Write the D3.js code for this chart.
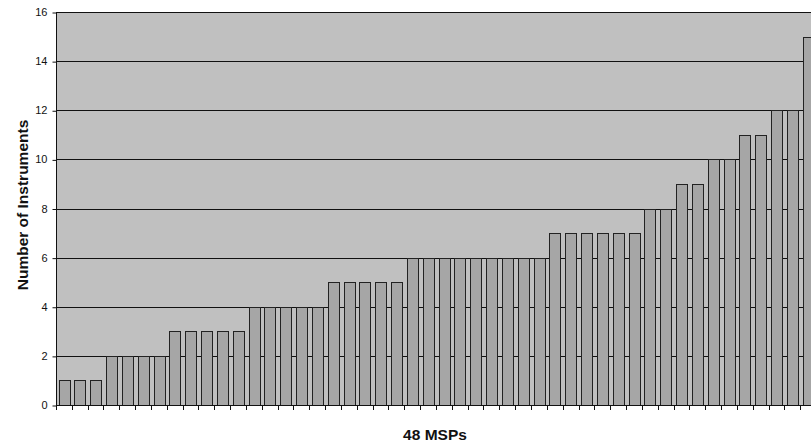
<!DOCTYPE html>
<meta charset="utf-8">
<style>
body { margin: 0; background: #fff; }
svg { font-family: "Liberation Sans", Arial, sans-serif; display: block; }
.bar { fill: #a6a6a6; stroke: #222; stroke-width: 1; }
</style>
<body>
<script src="https://cdnjs.cloudflare.com/ajax/libs/d3/7.8.5/d3.min.js"></script>
<script>

// one bar per MSP, sorted ascending
var msps = d3.range(1, 49).map(function(i) { return "MSP " + i; });
var instruments = [1, 1, 1,
                   2, 2, 2, 2,
                   3, 3, 3, 3, 3,
                   4, 4, 4, 4, 4,
                   5, 5, 5, 5, 5,
                   6, 6, 6, 6, 6, 6, 6, 6, 6,
                   7, 7, 7, 7, 7, 7,
                   8, 8, 9, 9, 10, 10, 11, 11, 12, 12, 15];
var yTicks = [0, 2, 4, 6, 8, 10, 12, 14, 16];

var W = 811, H = 446;
// plot area runs a little past the right edge of the picture
var plotL = 56, plotR = 816, plotT = 12, plotB = 405;

var svg = d3.select("body").append("svg")
    .attr("width", W)
    .attr("height", H);

var x = d3.scaleBand()
    .domain(msps)
    .range([plotL, plotR])
    .paddingInner(0.32)
    .paddingOuter(0.16);

var y = d3.scaleLinear()
    .domain([0, 16])
    .range([plotB, plotT]);

// plot background
svg.append("rect")
    .attr("x", plotL)
    .attr("y", plotT)
    .attr("width", plotR - plotL)
    .attr("height", plotB - plotT)
    .attr("fill", "#c0c0c0");

// gridlines
svg.append("g")
  .selectAll("line")
  .data(yTicks.filter(function(d) { return d > 0; }))
  .enter().append("line")
    .attr("x1", plotL)
    .attr("x2", plotR)
    .attr("y1", function(d) { return Math.round(y(d)) + 0.5; })
    .attr("y2", function(d) { return Math.round(y(d)) + 0.5; })
    .attr("stroke", "#111")
    .attr("stroke-width", 1);

// bars
svg.selectAll(".bar")
    .data(instruments)
  .enter().append("rect")
    .attr("class", "bar")
    .attr("x", function(d, i) { return Math.round(x(msps[i])) + 0.5; })
    .attr("width", Math.round(x.bandwidth()))
    .attr("y", function(d) { return Math.round(y(d)) + 0.5; })
    .attr("height", function(d) { return plotB - Math.round(y(d)); });

// y axis
var yAxis = svg.append("g")
    .attr("transform", "translate(" + (plotL + 0.5) + ",0)")
    .call(d3.axisLeft(y).tickValues(yTicks).tickSize(4).tickPadding(5).tickFormat(d3.format("d")));
yAxis.select(".domain").attr("stroke", "#111").attr("d", "M0," + plotT + "V" + (plotB + 1));
yAxis.selectAll(".tick line").attr("stroke", "#111").attr("transform", "translate(0,0.5)");
yAxis.selectAll("text").attr("font-size", 11).attr("fill", "#111");
yAxis.attr("font-family", null);

// x axis: ticks at category boundaries, no labels
var step = x.step();
var xAxis = svg.append("g").attr("class", "xaxis");
xAxis.append("line")
    .attr("x1", plotL).attr("x2", plotR)
    .attr("y1", plotB + 0.5).attr("y2", plotB + 0.5)
    .attr("stroke", "#111");
xAxis.selectAll("line.tk")
    .data(msps)
  .enter().append("line")
    .attr("class", "tk")
    .attr("x1", function(d) { return Math.round(x(d) - x.paddingOuter() * step) + 0.5; })
    .attr("x2", function(d) { return Math.round(x(d) - x.paddingOuter() * step) + 0.5; })
    .attr("y1", plotB)
    .attr("y2", plotB + 5)
    .attr("stroke", "#111");

// axis titles
svg.append("text")
    .attr("transform", "translate(28,205) rotate(-90)")
    .attr("text-anchor", "middle")
    .attr("font-size", 15.5)
    .attr("font-weight", "bold")
    .attr("fill", "#111")
    .text("Number of Instruments");

svg.append("text")
    .attr("x", 435)
    .attr("y", 440)
    .attr("text-anchor", "middle")
    .attr("font-size", 15.5)
    .attr("font-weight", "bold")
    .attr("fill", "#111")
    .text("48 MSPs");

</script>
</body>
